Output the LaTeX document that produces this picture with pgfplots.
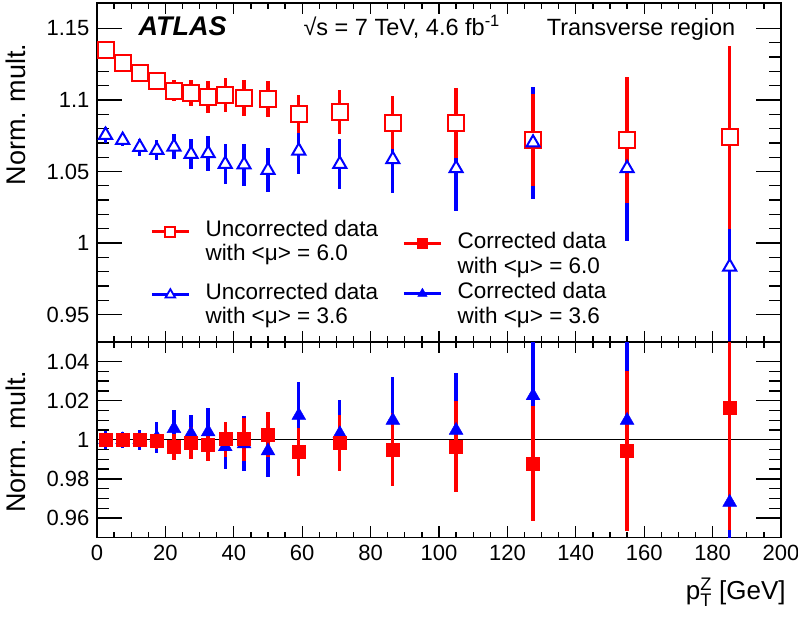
\documentclass[border=0pt]{standalone}
\usepackage{fontspec}
\setmainfont{Liberation Sans}
\usepackage{amsmath}
\usepackage{pgfplots}
\usepackage{pgfplotstable}
\pgfplotsset{compat=1.18}

\definecolor{rred}{RGB}{255,0,0}
\definecolor{rblue}{RGB}{0,0,255}

% pT bin centre; uncorrected (u) and corrected (c) norm. multiplicity
% for <mu> = 6.0 (6) and <mu> = 3.6 (36), each with its error (e...)
\pgfplotstableread{
pt    u6     eu6    u36    eu36   c6     ec6    c36    ec36
2.5   1.1350 0.0030 1.0755 0.0058 1.0000 0.0010 1.0000 0.0045
7.5   1.1257 0.0030 1.0720 0.0040 1.0000 0.0010 1.0000 0.0040
12.5  1.1187 0.0030 1.0670 0.0060 1.0000 0.0020 1.0000 0.0050
17.5  1.1135 0.0062 1.0650 0.0073 0.9994 0.0040 1.0010 0.0080
22.5  1.1065 0.0072 1.0673 0.0086 0.9964 0.0066 1.0057 0.0093
27.5  1.1047 0.0091 1.0622 0.0105 0.9984 0.0080 1.0031 0.0096
32.5  1.1023 0.0111 1.0627 0.0122 0.9975 0.0083 1.0040 0.0120
37.5  1.1035 0.0117 1.0552 0.0142 1.0003 0.0090 0.9964 0.0115
43    1.1012 0.0126 1.0548 0.0147 1.0003 0.0110 0.9979 0.0140
50    1.1007 0.0128 1.0510 0.0154 1.0026 0.0115 0.9943 0.0135
59    1.0902 0.0136 1.0645 0.0163 0.9938 0.0123 1.0124 0.0169
71    1.0918 0.0154 1.0552 0.0177 0.9984 0.0145 1.0031 0.0170
86.5  1.0841 0.0187 1.0585 0.0232 0.9950 0.0186 1.0099 0.0223
105   1.0841 0.0245 1.0522 0.0297 0.9967 0.0233 1.0048 0.0295
127.5 1.0720 0.0320 1.0701 0.0390 0.9880 0.0294 1.0225 0.0390
155   1.0720 0.0440 1.0522 0.0506 0.9942 0.0410 1.0099 0.0500
185   1.0739 0.0640 0.9834 0.0750 1.0166 0.0630 0.9680 0.0750
}\data

\pgfplotsset{
  root/.style={
    scale only axis, width=684pt,
    xmin=0, xmax=200,
    xtick distance=20, minor x tick num=3,
    tick align=inside,
    axis line style={line width=1.6pt},
    tick style={black, line width=1.3pt},
    major tick length=25pt, minor tick length=12pt,
    xtick style={/pgfplots/major tick length=11pt, /pgfplots/minor tick length=6pt},
    tick label style={font=\fontsize{22}{24}\selectfont},
    /pgf/number format/assume math mode=true,
    yticklabel style={/pgf/number format/fixed, xshift=-4pt},
    xticklabel style={yshift=-4pt},
    ylabel style={font=\fontsize{27}{30}\selectfont, anchor=base east},
    legend cell align=left,
    legend style={draw=none, fill=none, inner sep=0pt, anchor=north west,
      column sep=15pt, row sep=0pt},
  },
  bars/.style={forget plot, only marks, mark=none,
    error bars/.cd, y dir=both, y explicit, error mark=none,
    error bar style={line width=3.3pt, #1}},
  errleg/.style={legend image code/.code={
      \draw[#1, line width=3.3pt] (0pt,0pt) -- (37pt,0pt);
      \draw[##1] plot coordinates {(18.5pt,0pt)};}},
}

\begin{document}
\begin{tikzpicture}
% upper panel: uncorrected data
\begin{axis}[root, at={(0,195.5pt)}, anchor=south west, height=339pt,
  ymin=0.9308, ymax=1.1678, ytick={0.95,1,1.05,1.1,1.15}, minor y tick num=4,
  xticklabel=\empty,
  ylabel={Norm. mult.}, ylabel style={at={(rel axis cs:-0.105,0.891)}},
  legend style={at={(rel axis cs:0.0775,0.3614)},
    font=\fontsize{22.5}{24}\selectfont,
    nodes={inner sep=0pt, text height=16.8pt, text depth=7.2pt}}]
\addplot[bars=rblue] table[x=pt, y=u36, y error=eu36] {\data};
\addplot[bars=rred] table[x=pt, y=u6, y error=eu6] {\data};
\addplot[forget plot, only marks, mark=square*, mark size=8pt,
  mark options={draw=rred, fill=white, line width=2pt}] table[x=pt, y=u6] {\data};
\addplot[forget plot, only marks, mark=triangle*, mark size=7.5pt,
  mark options={draw=rblue, fill=white, line width=2pt}] table[x=pt, y=u36] {\data};
\addlegendimage{errleg=rred, only marks, mark=square*, mark size=5pt,
  mark options={draw=rred, fill=white, line width=1.8pt}}
\addlegendentry{Uncorrected data}
\addlegendimage{empty legend}
\addlegendentry[text depth=22.2pt]{with <μ> = 6.0}
\addlegendimage{errleg=rblue, only marks, mark=triangle*, mark size=5.5pt,
  mark options={draw=rblue, fill=white, line width=1.8pt}}
\addlegendentry{Uncorrected data}
\addlegendimage{empty legend}
\addlegendentry{with <μ> = 3.6}
\node[anchor=base west, font=\fontsize{27}{30}\selectfont\bfseries\itshape]
  at (rel axis cs:0.0556,0.904) {ATLAS};
\node[anchor=base west, font=\fontsize{23.5}{26}\selectfont]
  at (rel axis cs:0.2968,0.904) {√s = 7 TeV, 4.6 fb\textsuperscript{-1}};
\node[anchor=base west, font=\fontsize{23.5}{26}\selectfont]
  at (rel axis cs:0.6525,0.904) {Transverse region};
\end{axis}

% lower panel: corrected data
\begin{axis}[root, at={(0,0)}, anchor=south west, height=195.5pt,
  ymin=0.95, ymax=1.05, ytick={0.96,0.98,1,1.02,1.04}, minor y tick num=3,
  xlabel={p$_{\text{T}}^{\text{Z}}$ [GeV]},
  xlabel style={at={(rel axis cs:1.012,-0.315)}, anchor=base east,
    font=\fontsize{26}{28}\selectfont},
  ylabel={Norm. mult.}, ylabel style={at={(rel axis cs:-0.105,0.872)}},
  legend style={at={(rel axis cs:0.446,1.568)},
    font=\fontsize{22.5}{25}\selectfont,
    nodes={inner sep=0pt, text height=17.5pt, text depth=7.5pt}}]
\addplot[forget plot, black, line width=1.2pt] coordinates {(0,1) (200,1)};
\addplot[bars=rblue] table[x=pt, y=c36, y error=ec36] {\data};
\addplot[bars=rred] table[x=pt, y=c6, y error=ec6] {\data};
\addplot[forget plot, only marks, mark=triangle*, mark size=8pt,
  mark options={draw=rblue, fill=rblue}] table[x=pt, y=c36] {\data};
\addplot[forget plot, only marks, mark=square*, mark size=6.5pt,
  mark options={draw=rred, fill=rred}] table[x=pt, y=c6] {\data};
\addlegendimage{errleg=rred, only marks, mark=square*, mark size=5pt,
  mark options={draw=rred, fill=rred}}
\addlegendentry{Corrected data}
\addlegendimage{empty legend}
\addlegendentry{with <μ> = 6.0}
\addlegendimage{errleg=rblue, only marks, mark=triangle*, mark size=5.5pt,
  mark options={draw=rblue, fill=rblue}}
\addlegendentry{Corrected data}
\addlegendimage{empty legend}
\addlegendentry{with <μ> = 3.6}
\end{axis}
\pgfresetboundingbox
\path (-97pt,-84.5pt) rectangle (701pt,537.5pt);
\end{tikzpicture}
\end{document}
